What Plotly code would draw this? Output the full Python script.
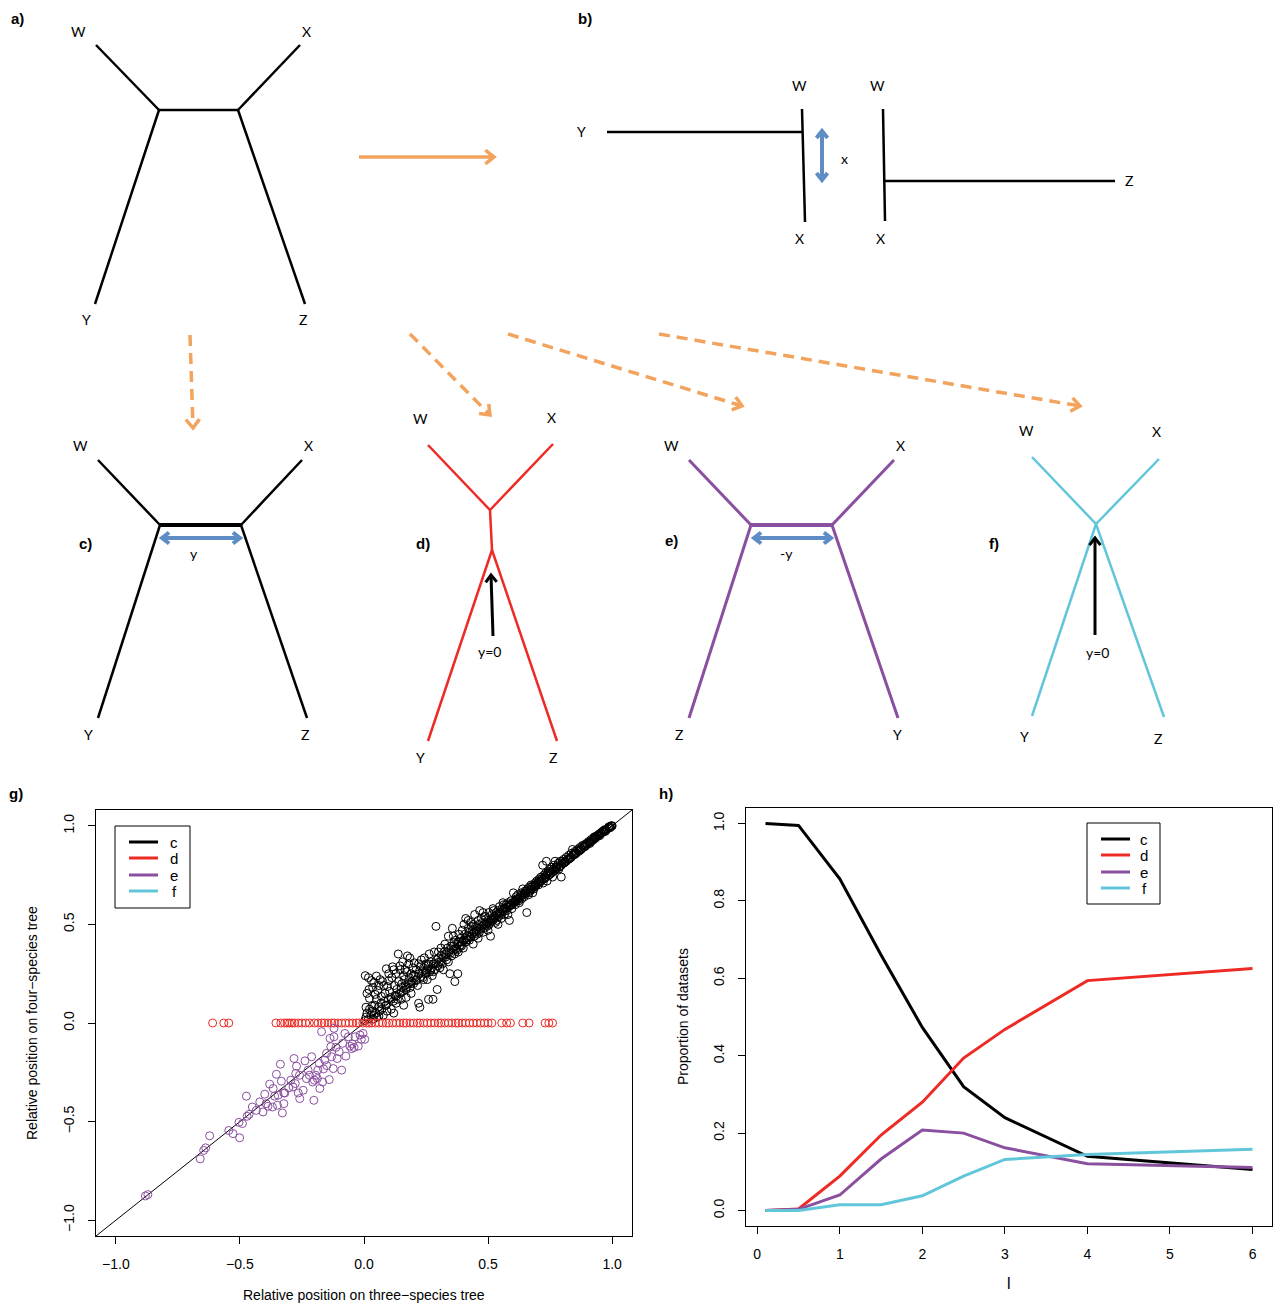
import math
import plotly.graph_objects as go

# ---------------- data: panel h ----------------
h_l = [0.1, 0.5, 1, 1.5, 2, 2.5, 3, 4, 6]
h_c = [1.0, 0.995, 0.857, 0.66, 0.473, 0.32, 0.24, 0.14, 0.106]
h_d = [0.0, 0.004, 0.089, 0.195, 0.28, 0.394, 0.468, 0.594, 0.625]
h_e = [0.0, 0.003, 0.04, 0.133, 0.208, 0.2, 0.162, 0.121, 0.111]
h_f = [0.0, 0.0, 0.015, 0.015, 0.038, 0.089, 0.132, 0.145, 0.158]

# ---------------- data: panel g ----------------
g_black = [
    (0.003, 0.012), (0.008, 0.03), (0.012, 0.05), (0.018, 0.02), (0.022, 0.07), (0.028, 0.04), (0.033, 0.06),
    (0.038, 0.02), (0.043, 0.09), (0.048, 0.05), (0.052, 0.03), (0.058, 0.08), (0.063, 0.06), (0.068, 0.1),
    (0.072, 0.07), (0.078, 0.04), (0.083, 0.11), (0.088, 0.09), (0.093, 0.06), (0.098, 0.12),
    (0.005, 0.24), (0.018, 0.23), (0.03, 0.215), (0.04, 0.205), (0.05, 0.238), (0.012, 0.15), (0.022, 0.125),
    (0.008, 0.08), (0.032, 0.085), (0.045, 0.145), (0.055, 0.165), (0.06, 0.19), (0.07, 0.135), (0.075, 0.21),
    (0.085, 0.15), (0.09, 0.275), (0.095, 0.185),
    (0.1, 0.215), (0.103, 0.16), (0.108, 0.13), (0.112, 0.23), (0.115, 0.285), (0.118, 0.11), (0.122, 0.19),
    (0.125, 0.14), (0.128, 0.25), (0.132, 0.17), (0.135, 0.12), (0.138, 0.35), (0.14, 0.21), (0.143, 0.15),
    (0.146, 0.27), (0.15, 0.18), (0.153, 0.2), (0.156, 0.31), (0.158, 0.16), (0.16, 0.24), (0.163, 0.22),
    (0.166, 0.19), (0.17, 0.17), (0.172, 0.26), (0.175, 0.34), (0.178, 0.2), (0.18, 0.3), (0.183, 0.23),
    (0.186, 0.18), (0.19, 0.25), (0.193, 0.21), (0.196, 0.28), (0.2, 0.2),
    (0.203, 0.305), (0.206, 0.24), (0.21, 0.27), (0.213, 0.22), (0.216, 0.19), (0.22, 0.1), (0.222, 0.25),
    (0.225, 0.08), (0.228, 0.29), (0.231, 0.32), (0.234, 0.26), (0.237, 0.23), (0.24, 0.28), (0.243, 0.33),
    (0.246, 0.25), (0.25, 0.3), (0.252, 0.27), (0.255, 0.22), (0.258, 0.29), (0.26, 0.12), (0.263, 0.35),
    (0.266, 0.26), (0.27, 0.31), (0.272, 0.28), (0.275, 0.24), (0.278, 0.12), (0.28, 0.3), (0.283, 0.36),
    (0.286, 0.27), (0.29, 0.49), (0.292, 0.32), (0.295, 0.17), (0.298, 0.29),
    (0.3, 0.33), (0.303, 0.31), (0.306, 0.28), (0.31, 0.38), (0.313, 0.34), (0.316, 0.3), (0.32, 0.27),
    (0.323, 0.36), (0.326, 0.4), (0.33, 0.35), (0.333, 0.32), (0.336, 0.38), (0.34, 0.44), (0.343, 0.36),
    (0.346, 0.25), (0.35, 0.39), (0.353, 0.34), (0.356, 0.48), (0.36, 0.37), (0.363, 0.41), (0.366, 0.21),
    (0.37, 0.42), (0.372, 0.38), (0.375, 0.4), (0.378, 0.25), (0.38, 0.36), (0.383, 0.45), (0.386, 0.41),
    (0.39, 0.43), (0.393, 0.39), (0.396, 0.47), (0.4, 0.42),
    (0.403, 0.5), (0.406, 0.45), (0.41, 0.53), (0.413, 0.43), (0.416, 0.42), (0.42, 0.48), (0.423, 0.46),
    (0.426, 0.44), (0.43, 0.51), (0.433, 0.49), (0.436, 0.47), (0.44, 0.4), (0.443, 0.46), (0.446, 0.55),
    (0.45, 0.49), (0.453, 0.47), (0.456, 0.45), (0.46, 0.52), (0.463, 0.5), (0.466, 0.57), (0.47, 0.48),
    (0.473, 0.53), (0.476, 0.51), (0.48, 0.46), (0.483, 0.5), (0.486, 0.54), (0.49, 0.54), (0.493, 0.5),
    (0.496, 0.49), (0.5, 0.52),
    (0.503, 0.56), (0.506, 0.51), (0.51, 0.44), (0.513, 0.53), (0.516, 0.55), (0.52, 0.52), (0.523, 0.57),
    (0.526, 0.54), (0.53, 0.51), (0.533, 0.56), (0.536, 0.55), (0.54, 0.57), (0.543, 0.54), (0.546, 0.59),
    (0.55, 0.56), (0.553, 0.53), (0.556, 0.58), (0.56, 0.57), (0.563, 0.6), (0.566, 0.55), (0.57, 0.58),
    (0.573, 0.6), (0.576, 0.57), (0.58, 0.61), (0.583, 0.59), (0.586, 0.52), (0.59, 0.6), (0.593, 0.62),
    (0.596, 0.58), (0.6, 0.61),
    (0.602, 0.66), (0.606, 0.62), (0.61, 0.6), (0.613, 0.64), (0.616, 0.62), (0.62, 0.65), (0.623, 0.63),
    (0.626, 0.61), (0.63, 0.64), (0.633, 0.66), (0.636, 0.63), (0.64, 0.68), (0.643, 0.65), (0.646, 0.64),
    (0.65, 0.67), (0.653, 0.66), (0.656, 0.56), (0.66, 0.68), (0.663, 0.65), (0.666, 0.69), (0.67, 0.67),
    (0.673, 0.7), (0.676, 0.68), (0.68, 0.66), (0.683, 0.7), (0.686, 0.69), (0.69, 0.71), (0.693, 0.7),
    (0.696, 0.72), (0.7, 0.71),
    (0.703, 0.7), (0.706, 0.73), (0.71, 0.72), (0.713, 0.74), (0.716, 0.73), (0.72, 0.8), (0.722, 0.71),
    (0.725, 0.75), (0.728, 0.74), (0.732, 0.76), (0.735, 0.82), (0.738, 0.72), (0.74, 0.76), (0.743, 0.77),
    (0.746, 0.75), (0.75, 0.78), (0.753, 0.77), (0.756, 0.79), (0.76, 0.74), (0.763, 0.78), (0.766, 0.8),
    (0.77, 0.82), (0.773, 0.79), (0.776, 0.78), (0.78, 0.8), (0.783, 0.81), (0.786, 0.79), (0.79, 0.82),
    (0.795, 0.74), (0.798, 0.81),
    (0.8, 0.82), (0.805, 0.83), (0.81, 0.82), (0.815, 0.84), (0.82, 0.83), (0.825, 0.85), (0.83, 0.84),
    (0.835, 0.86), (0.84, 0.88), (0.843, 0.85), (0.847, 0.86), (0.85, 0.87), (0.855, 0.86), (0.86, 0.88),
    (0.865, 0.87), (0.87, 0.89), (0.875, 0.88), (0.88, 0.9), (0.885, 0.89), (0.89, 0.9), (0.895, 0.91),
    (0.9, 0.91), (0.905, 0.92), (0.91, 0.915), (0.915, 0.93), (0.92, 0.925), (0.925, 0.94), (0.93, 0.945),
    (0.935, 0.94), (0.94, 0.95), (0.945, 0.955), (0.95, 0.96), (0.955, 0.96), (0.96, 0.97), (0.965, 0.97),
    (0.97, 0.98), (0.975, 0.98), (0.98, 0.985), (0.985, 0.99), (0.99, 0.995), (0.995, 1.0), (1.0, 1.0),
    (0.998, 0.998), (0.992, 0.99), (0.987, 0.995),
    (0.11, 0.12), (0.13, 0.135), (0.15, 0.155), (0.17, 0.18), (0.19, 0.2), (0.21, 0.215), (0.23, 0.235),
    (0.25, 0.255), (0.27, 0.27), (0.29, 0.3), (0.31, 0.31), (0.33, 0.335), (0.35, 0.355), (0.37, 0.375),
    (0.39, 0.395), (0.41, 0.41), (0.43, 0.435), (0.45, 0.455), (0.47, 0.475), (0.49, 0.495), (0.51, 0.515),
    (0.53, 0.535), (0.55, 0.555), (0.57, 0.575), (0.59, 0.595), (0.61, 0.615), (0.63, 0.635), (0.65, 0.655),
    (0.67, 0.675), (0.69, 0.695), (0.71, 0.715), (0.73, 0.735), (0.75, 0.755), (0.77, 0.775), (0.79, 0.795),
    (0.81, 0.815), (0.83, 0.835), (0.85, 0.855), (0.87, 0.875), (0.89, 0.895), (0.91, 0.91), (0.93, 0.935),
    (0.95, 0.95), (0.97, 0.97),
    (0.36, 0.39), (0.365, 0.35), (0.375, 0.37), (0.385, 0.39), (0.395, 0.41), (0.405, 0.42), (0.415, 0.44),
    (0.425, 0.42), (0.435, 0.45), (0.445, 0.44), (0.455, 0.48), (0.465, 0.46), (0.475, 0.49), (0.485, 0.48),
    (0.495, 0.51), (0.505, 0.5), (0.515, 0.52), (0.525, 0.53), (0.535, 0.52), (0.545, 0.56), (0.555, 0.55),
    (0.565, 0.58), (0.575, 0.59), (0.585, 0.6), (0.595, 0.6), (0.605, 0.61), (0.615, 0.63), (0.625, 0.62),
    (0.635, 0.65), (0.645, 0.66), (0.655, 0.67), (0.665, 0.66), (0.675, 0.69), (0.685, 0.68), (0.695, 0.7),
    (0.705, 0.72), (0.715, 0.72), (0.725, 0.73), (0.735, 0.75), (0.745, 0.76), (0.755, 0.76), (0.765, 0.77),
    (0.775, 0.79), (0.785, 0.78), (0.795, 0.8), (0.805, 0.81), (0.815, 0.82), (0.825, 0.83), (0.835, 0.84),
    (0.845, 0.855), (0.855, 0.865), (0.865, 0.875), (0.875, 0.885), (0.885, 0.9), (0.895, 0.9), (0.905, 0.915),
    (0.915, 0.92), (0.925, 0.93), (0.935, 0.945), (0.945, 0.95), (0.955, 0.965), (0.965, 0.975), (0.975, 0.975),
    (0.02, 0.17), (0.035, 0.18), (0.05, 0.12), (0.065, 0.22), (0.08, 0.19), (0.1, 0.25), (0.12, 0.27),
    (0.145, 0.29), (0.165, 0.27), (0.185, 0.33), (0.2, 0.24), (0.22, 0.3), (0.24, 0.22), (0.26, 0.3),
    (0.28, 0.26), (0.3, 0.36), (0.32, 0.33), (0.34, 0.31), (0.36, 0.44), (0.38, 0.41), (0.4, 0.38),
    (0.42, 0.52), (0.44, 0.5), (0.46, 0.43), (0.48, 0.56), (0.5, 0.47), (0.52, 0.58), (0.54, 0.5),
    (0.56, 0.61), (0.58, 0.55), (0.04, 0.04), (0.06, 0.035), (0.09, 0.09), (0.11, 0.07), (0.13, 0.1),
    (0.15, 0.12), (0.17, 0.13), (0.19, 0.15), (0.12, 0.05), (0.16, 0.09),
]

g_red_x = [-0.61, -0.565, -0.545, -0.355, -0.335, -0.32, -0.31, -0.3, -0.29, -0.28, -0.265, -0.25, -0.235,
           -0.22, -0.2, -0.185, -0.17, -0.16, -0.145, -0.13, -0.12, -0.105, -0.09, -0.075, -0.06, -0.045, -0.03,
           -0.02, -0.005, 0.01, 0.02, 0.03, 0.045, 0.06, 0.075, 0.09, 0.1, 0.115, 0.13, 0.145, 0.16, 0.17, 0.185,
           0.2, 0.215, 0.225, 0.24, 0.255, 0.27, 0.285, 0.3, 0.31, 0.325, 0.34, 0.355, 0.37, 0.38, 0.395, 0.41,
           0.425, 0.44, 0.455, 0.47, 0.485, 0.5, 0.515, 0.555, 0.575, 0.59, 0.64, 0.665, 0.73, 0.745, 0.76]
g_red_y = [0.0, 0.0, 0.0, 0.0, 0.0, 0.0, 0.0, 0.0, 0.0, 0.0, 0.0, 0.0, 0.0,
           0.0, 0.0, 0.0, 0.0, 0.0, 0.0, 0.0, 0.0, 0.0, 0.0, 0.0, 0.0, 0.0, 0.0,
           0.0, 0.0, 0.0, 0.0, 0.0, 0.0, 0.0, 0.0, 0.0, 0.0, 0.0, 0.0, 0.0, 0.0, 0.0, 0.0,
           0.0, 0.0, 0.0, 0.0, 0.0, 0.0, 0.0, 0.0, 0.0, 0.0, 0.0, 0.0, 0.0, 0.0, 0.0, 0.0,
           0.0, 0.0, 0.0, 0.0, 0.0, 0.0, 0.0, 0.0, 0.0, 0.0, 0.0, 0.0, 0.0, 0.0, 0.0]

g_purple = [
    (-0.871, -0.87), (-0.881, -0.877), (-0.66, -0.689), (-0.646, -0.646), (-0.638, -0.633), (-0.622, -0.572),
    (-0.545, -0.545), (-0.528, -0.561), (-0.501, -0.582), (-0.504, -0.504), (-0.49, -0.51), (-0.471, -0.473),
    (-0.463, -0.463), (-0.474, -0.371), (-0.45, -0.426), (-0.434, -0.443), (-0.42, -0.4), (-0.407, -0.451),
    (-0.4, -0.361), (-0.387, -0.422), (-0.38, -0.31), (-0.366, -0.332), (-0.36, -0.371), (-0.353, -0.26),
    (-0.349, -0.417), (-0.337, -0.209), (-0.333, -0.295), (-0.329, -0.456), (-0.323, -0.409), (-0.319, -0.355),
    (-0.295, -0.29), (-0.286, -0.324), (-0.282, -0.18), (-0.275, -0.256), (-0.265, -0.355), (-0.259, -0.383),
    (-0.272, -0.219), (-0.245, -0.341), (-0.238, -0.192), (-0.232, -0.282), (-0.225, -0.239), (-0.211, -0.171),
    (-0.207, -0.299), (-0.202, -0.392), (-0.194, -0.265), (-0.188, -0.282), (-0.18, -0.205), (-0.178, -0.332),
    (-0.171, -0.044), (-0.167, -0.299), (-0.158, -0.188), (-0.151, -0.154), (-0.14, -0.287), (-0.137, -0.078),
    (-0.131, -0.171), (-0.124, -0.231), (-0.121, -0.027), (-0.113, -0.124), (-0.108, -0.18), (-0.1, -0.146),
    (-0.09, -0.239), (-0.086, -0.103), (-0.077, -0.053), (-0.073, -0.168), (-0.063, -0.07), (-0.057, -0.117),
    (-0.05, -0.13), (-0.047, -0.107), (-0.04, -0.124), (-0.036, -0.07), (-0.023, -0.117), (-0.016, -0.061),
    (-0.011, -0.083), (-0.004, -0.053), (0.003, -0.083), (-0.121, -0.07), (-0.134, -0.12), (-0.15, -0.216),
    (-0.163, -0.233), (-0.186, -0.239), (-0.2, -0.29), (-0.22, -0.265), (-0.26, -0.265), (-0.277, -0.307),
    (-0.303, -0.329), (-0.323, -0.355), (-0.346, -0.366), (-0.369, -0.426), (-0.394, -0.409),
]

g_ticks = [-1.0, -0.5, 0.0, 0.5, 1.0]
g_ticktext = ["\u22121.0", "\u22120.5", "0.0", "0.5", "1.0"]
h_xticks = [0, 1, 2, 3, 4, 5, 6]
h_yticks = [0.0, 0.2, 0.4, 0.6, 0.8, 1.0]
h_yticktext = ["0.0", "0.2", "0.4", "0.6", "0.8", "1.0"]
series_names = ["c", "d", "e", "f"]

# ---------------- data: diagrams (pixel coordinates on a canvas axis) ----------------
A_NODES = {"W": (96, 45), "X": (300, 45), "Y": (95, 304), "Z": (305, 304), "L": (159, 110), "R": (238, 110)}
A_EDGES = [("W", "L"), ("Y", "L"), ("L", "R"), ("R", "X"), ("R", "Z")]
A_LABELS = [("W", 78, 31), ("X", 306, 31), ("Y", 86, 319), ("Z", 303, 319)]

B_SEGMENTS = [((607, 132), (803, 132)), ((802, 109), (805, 222)), ((883, 109), (885, 221)), ((884, 181), (1115, 181))]
B_LABELS = [("Y", 581, 131), ("W", 799, 85), ("X", 799, 238), ("W", 877, 85), ("X", 880, 238), ("Z", 1129, 180), ("x", 844, 158)]
B_ARROW = ((822, 131), (822, 180))

C_NODES = {"W": (98, 460), "X": (302, 460), "Y": (98, 718), "Z": (307, 718), "L": (160, 525), "R": (241, 525)}
C_EDGES = [("W", "L"), ("Y", "L"), ("R", "X"), ("R", "Z")]
C_INNER = [("L", "R")]
C_LABELS = [("W", 80, 445), ("X", 308, 445), ("Y", 88, 734), ("Z", 305, 734), ("y", 194, 553)]
C_ARROW = ((162, 538), (240, 538))

D_NODES = {"W": (428, 445), "X": (553, 444), "Y": (428, 741), "Z": (557, 741), "U": (490, 510), "V": (492, 550)}
D_EDGES = [("W", "U"), ("X", "U"), ("U", "V"), ("V", "Y"), ("V", "Z")]
D_LABELS = [("W", 420, 418), ("X", 551, 417), ("Y", 420, 757), ("Z", 553, 757), ("y=0", 489, 651)]
D_ARROW = ((493, 636), (491, 575))

E_NODES = {"W": (689, 460), "X": (894, 460), "Z": (689, 718), "Y": (898, 718), "L": (751, 525), "R": (832, 525)}
E_EDGES = [("W", "L"), ("Z", "L"), ("R", "X"), ("R", "Y")]
E_INNER = [("L", "R")]
E_LABELS = [("W", 671, 445), ("X", 900, 445), ("Z", 679, 734), ("Y", 897, 734), ("-y", 786, 553)]
E_ARROW = ((754, 538), (831, 538))

F_NODES = {"W": (1032, 457), "X": (1159, 459), "Y": (1032, 716), "Z": (1164, 717), "C": (1096, 524)}
F_EDGES = [("W", "C"), ("X", "C"), ("C", "Y"), ("C", "Z")]
F_LABELS = [("W", 1026, 430), ("X", 1156, 431), ("Y", 1024, 736), ("Z", 1158, 738), ("y=0", 1097, 652)]
F_ARROW = ((1095, 635), (1095, 538))

SOLID_ORANGE = ((359, 157), (494, 157))
DASHED_ORANGE = [((190, 335), (193, 428)), ((410, 334), (490, 415)), ((508, 334), (742, 406)), ((659, 334), (1080, 406))]

PANEL_LABELS = [("a)", 17, 18), ("b)", 585, 18), ("c)", 85, 543), ("d)", 423, 543), ("e)", 671, 540),
                ("f)", 994, 543), ("g)", 16, 793), ("h)", 666, 793)]

# ---------------- styling ----------------
BLACK = "#000000"
RED = "#EE2A24"
PURPLE = "#8A4F9F"
CYAN = "#62C6DA"
BLUE = "#5E8DC6"
ORANGE = "#F2A35E"
FONT = "Liberation Sans"
LABEL_FONT = "Lato"

fig = go.Figure()


def edges_xy(nodes, edges):
    xs, ys = [], []
    for a, b in edges:
        xs += [nodes[a][0], nodes[b][0], None]
        ys += [nodes[a][1], nodes[b][1], None]
    return xs, ys


def add_canvas_line(xs, ys, color, width, dash=None):
    fig.add_trace(go.Scatter(x=xs, y=ys, mode="lines", xaxis="x", yaxis="y", hoverinfo="skip",
                             line=dict(color=color, width=width, dash=dash), showlegend=False))


def head(p0, p1, length=9.0, ang=38.0):
    dx, dy = p1[0] - p0[0], p1[1] - p0[1]
    n = math.hypot(dx, dy)
    ux, uy = dx / n, dy / n
    pts = []
    for s in (1, -1):
        a = math.radians(ang) * s
        rx = -(ux * math.cos(a) - uy * math.sin(a))
        ry = -(ux * math.sin(a) + uy * math.cos(a))
        pts.append((p1[0] + rx * length, p1[1] + ry * length))
    return [pts[0][0], p1[0], pts[1][0]], [pts[0][1], p1[1], pts[1][1]]


def add_arrow(p0, p1, color, width, double=False, length=9.0, dash=None):
    add_canvas_line([p0[0], p1[0]], [p0[1], p1[1]], color, width, dash)
    hx, hy = head(p0, p1, length)
    add_canvas_line(hx, hy, color, width)
    if double:
        hx, hy = head(p1, p0, length)
        add_canvas_line(hx, hy, color, width)


# trees
for nodes, edges, color, w in [(A_NODES, A_EDGES, BLACK, 2.5), (C_NODES, C_EDGES, BLACK, 2.5),
                               (C_NODES, C_INNER, BLACK, 4), (D_NODES, D_EDGES, RED, 2.5),
                               (E_NODES, E_EDGES, PURPLE, 3), (E_NODES, E_INNER, PURPLE, 4),
                               (F_NODES, F_EDGES, CYAN, 2.5)]:
    xs, ys = edges_xy(nodes, edges)
    add_canvas_line(xs, ys, color, w)

for p0, p1 in B_SEGMENTS:
    add_canvas_line([p0[0], p1[0]], [p0[1], p1[1]], BLACK, 2.5)

# arrows
add_arrow(*B_ARROW, BLUE, 4, double=True, length=9)
add_arrow(*C_ARROW, BLUE, 4, double=True, length=9)
add_arrow(*E_ARROW, BLUE, 4, double=True, length=9)
add_arrow(*D_ARROW, BLACK, 3, length=9)
add_arrow(*F_ARROW, BLACK, 3, length=9)
add_arrow(*SOLID_ORANGE, ORANGE, 3.5, length=11)
for p0, p1 in DASHED_ORANGE:
    add_arrow(p0, p1, ORANGE, 3.5, length=11, dash="11px,7px")

# ---------------- panel g ----------------
fig.add_trace(go.Scatter(x=[-1.08, 1.08], y=[-1.08, 1.08], mode="lines", xaxis="x2", yaxis="y2",
                         line=dict(color=BLACK, width=1), hoverinfo="skip", showlegend=False))
fig.add_trace(go.Scatter(x=[p[0] for p in g_black], y=[p[1] for p in g_black], mode="markers",
                         xaxis="x2", yaxis="y2", name=series_names[0],
                         marker=dict(symbol="circle-open", size=8, color=BLACK, line=dict(width=1))))
fig.add_trace(go.Scatter(x=g_red_x, y=g_red_y, mode="markers", xaxis="x2", yaxis="y2", name=series_names[1],
                         marker=dict(symbol="circle-open", size=8, color=RED, line=dict(width=1))))
fig.add_trace(go.Scatter(x=[p[0] for p in g_purple], y=[p[1] for p in g_purple], mode="markers",
                         xaxis="x2", yaxis="y2", name=series_names[2],
                         marker=dict(symbol="circle-open", size=8, color=PURPLE, line=dict(width=1))))

# ---------------- panel h ----------------
for vals, color in [(h_c, BLACK), (h_d, RED), (h_e, PURPLE), (h_f, CYAN)]:
    fig.add_trace(go.Scatter(x=h_l, y=vals, mode="lines", xaxis="x3", yaxis="y3",
                             line=dict(color=color, width=3), showlegend=False))

# ---------------- annotations ----------------
ann = []
for txt, x, y in PANEL_LABELS:
    ann.append(dict(text="<b>%s</b>" % txt, x=x, y=y, xref="x", yref="y", showarrow=False,
                    font=dict(family=FONT, size=15, color=BLACK)))
for group in [A_LABELS, B_LABELS, C_LABELS, D_LABELS, E_LABELS, F_LABELS]:
    for txt, x, y in group:
        ann.append(dict(text=txt, x=x, y=y, xref="x", yref="y", showarrow=False,
                        font=dict(family=LABEL_FONT, size=14, color=BLACK)))

# axis titles
ann.append(dict(text="Relative position on three\u2212species tree", x=364, y=1295, xref="x", yref="y",
                showarrow=False, font=dict(family=FONT, size=14, color=BLACK)))
ann.append(dict(text="Relative position on four\u2212species tree", x=32, y=1023, xref="x", yref="y",
                showarrow=False, textangle=-90, font=dict(family=FONT, size=14, color=BLACK)))
ann.append(dict(text="Proportion of datasets", x=683, y=1017, xref="x", yref="y",
                showarrow=False, textangle=-90, font=dict(family=FONT, size=14, color=BLACK)))
ann.append(dict(text="l", x=1009, y=1283, xref="x", yref="y",
                showarrow=False, font=dict(family=FONT, size=16, color=BLACK)))

# legends (R style boxes)
shapes = []
legend_colors = [BLACK, RED, PURPLE, CYAN]
for box, line_x, ys, lab_x in [((115, 826, 190, 908), (129, 158), (842, 858, 875, 891), 174),
                               ((1087, 823, 1160, 904), (1101, 1130), (839, 855, 872, 888), 1144)]:
    shapes.append(dict(type="rect", xref="x", yref="y", x0=box[0], y0=box[1], x1=box[2], y1=box[3],
                       line=dict(color=BLACK, width=1), fillcolor="white", layer="above"))
    for yy, col, nm in zip(ys, legend_colors, series_names):
        shapes.append(dict(type="line", xref="x", yref="y", x0=line_x[0], x1=line_x[1], y0=yy, y1=yy,
                           line=dict(color=col, width=3), layer="above"))
        ann.append(dict(text=nm, x=lab_x, y=yy, xref="x", yref="y", showarrow=False,
                        font=dict(family=FONT, size=15, color=BLACK)))

axis_common = dict(showline=True, mirror=True, linecolor=BLACK, linewidth=1, ticks="outside", ticklen=7,
                   tickwidth=1, tickcolor=BLACK, showgrid=False, zeroline=False,
                   tickfont=dict(family=FONT, size=14, color=BLACK), fixedrange=True)

fig.update_layout(
    width=1275, height=1304, margin=dict(l=0, r=0, t=0, b=0),
    paper_bgcolor="white", plot_bgcolor="rgba(0,0,0,0)", showlegend=False,
    xaxis=dict(domain=[0, 1], range=[0, 1275], visible=False, fixedrange=True),
    yaxis=dict(domain=[0, 1], range=[1304, 0], visible=False, fixedrange=True),
    xaxis2=dict(domain=[96 / 1275, 632 / 1275], range=[-1.08, 1.08], anchor="y2",
                tickvals=g_ticks, ticktext=g_ticktext, ticklabelstandoff=8, **axis_common),
    yaxis2=dict(domain=[1 - 1236 / 1304, 1 - 810 / 1304], range=[-1.08, 1.08], anchor="x2",
                tickvals=g_ticks, ticktext=g_ticktext, tickangle=-90, ticklabelstandoff=8, **axis_common),
    xaxis3=dict(domain=[746 / 1275, 1272 / 1275], range=[-0.136, 6.236], anchor="y3",
                tickvals=h_xticks, ticklabelstandoff=8, **axis_common),
    yaxis3=dict(domain=[1 - 1226 / 1304, 1 - 808 / 1304], range=[-0.04, 1.04], anchor="x3",
                tickvals=h_yticks, ticktext=h_yticktext, tickangle=-90, ticklabelstandoff=8, **axis_common),
    annotations=ann, shapes=shapes,
)

fig.write_html("out.html", config={"displayModeBar": False},
               post_script="document.body.style.margin='0';document.body.style.overflow='hidden';")
